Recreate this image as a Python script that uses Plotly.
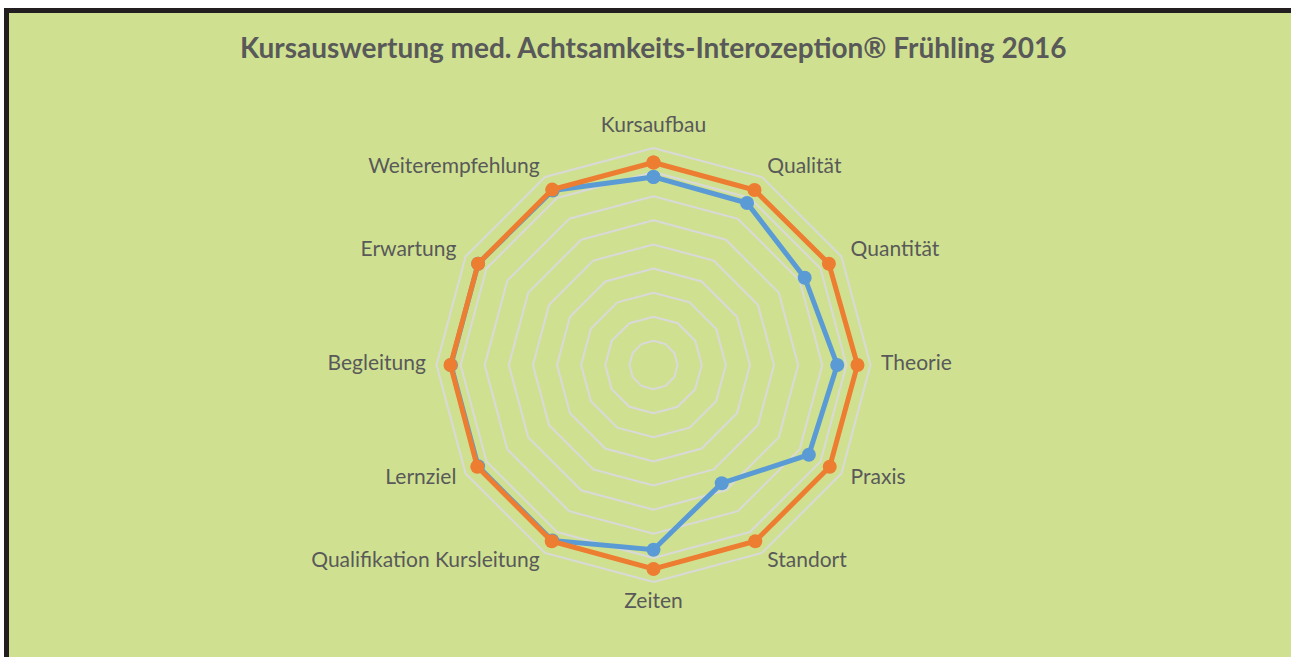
import plotly.graph_objects as go

categories = ["Kursaufbau", "Qualität", "Quantität", "Theorie", "Praxis", "Standort",
              "Zeiten", "Qualifikation Kursleitung", "Lernziel", "Begleitung",
              "Erwartung", "Weiterempfehlung"]
series_blue = [3.90, 3.88, 3.62, 3.81, 3.72, 2.83, 3.83, 4.20, 4.20, 4.20, 4.20, 4.18]
series_orange = [4.20, 4.19, 4.20, 4.23, 4.22, 4.22, 4.23, 4.22, 4.22, 4.21, 4.20, 4.20]
grid_values = [0.5, 1.0, 1.5, 2.0, 2.5, 3.0, 3.5, 4.0, 4.5]
title_text = "Kursauswertung med. Achtsamkeits-Interozeption® Frühling 2016"

W, H = 1291, 657
cx, cy = 653.5, 365
R_GRID_PX = 217
R_MAX = 4.5
LABEL_R = 4.72
R_RANGE = 5.0
R = R_GRID_PX * R_RANGE / R_MAX

def closed(v):
    return list(v) + [v[0]]

n = len(categories)
positions = []
for i in range(n):
    if i == 0:
        positions.append("top center")
    elif i * 2 == n:
        positions.append("bottom center")
    elif i < n / 2:
        positions.append("middle right")
    else:
        positions.append("middle left")

fig = go.Figure()
fig.add_trace(go.Scatterpolar(
    r=closed(series_blue), theta=closed(categories), mode="lines+markers",
    line=dict(color="#5B9BD5", width=5), marker=dict(color="#5B9BD5", size=14),
    showlegend=False, hoverinfo="skip"))
fig.add_trace(go.Scatterpolar(
    r=closed(series_orange), theta=closed(categories), mode="lines+markers",
    line=dict(color="#ED7D31", width=5), marker=dict(color="#ED7D31", size=14),
    showlegend=False, hoverinfo="skip"))
fig.add_trace(go.Scatterpolar(
    r=[LABEL_R] * n, theta=categories, mode="text", text=categories,
    textposition=positions, cliponaxis=False,
    textfont=dict(family="Lato", size=21, color="#595959"),
    showlegend=False, hoverinfo="skip"))

bg = "#CFE191"
fig.update_layout(
    width=W, height=H,
    margin=dict(l=0, r=0, t=0, b=0),
    paper_bgcolor=bg,
    font=dict(family="Lato", color="#595959"),
    title=dict(text="<b>" + title_text + "</b>", x=0.506, xanchor="center",
               y=1 - 48 / H, yanchor="middle",
               font=dict(size=28, color="#595959", family="Lato")),
    polar=dict(
        bgcolor=bg,
        gridshape="linear",
        domain=dict(x=[(cx - R) / W, (cx + R) / W], y=[(H - cy - R) / H, (H - cy + R) / H]),
        radialaxis=dict(range=[0, R_RANGE], tickmode="array", tickvals=grid_values,
                        showticklabels=False, ticks="",
                        showline=False, gridcolor="#D9D9D9", gridwidth=2),
        angularaxis=dict(direction="clockwise", rotation=90, showgrid=False,
                         showline=False, ticks="", showticklabels=False),
    ),
    shapes=[
        dict(type="rect", xref="paper", yref="paper", x0=0, x1=1, y0=1 - 8 / H, y1=1,
             fillcolor="white", line=dict(width=0), layer="above"),
        dict(type="rect", xref="paper", yref="paper", x0=0, x1=4 / W, y0=0, y1=1,
             fillcolor="white", line=dict(width=0), layer="above"),
        dict(type="rect", xref="paper", yref="paper", x0=4 / W, x1=1, y0=1 - 13 / H, y1=1 - 8 / H,
             fillcolor="#231F20", line=dict(width=0), layer="above"),
        dict(type="rect", xref="paper", yref="paper", x0=4 / W, x1=9 / W, y0=0, y1=1 - 8 / H,
             fillcolor="#231F20", line=dict(width=0), layer="above"),
    ],
)

fig.write_html("out.html", config={"displayModeBar": False},
               post_script="document.body.style.margin='0';document.body.style.overflow='hidden';")
